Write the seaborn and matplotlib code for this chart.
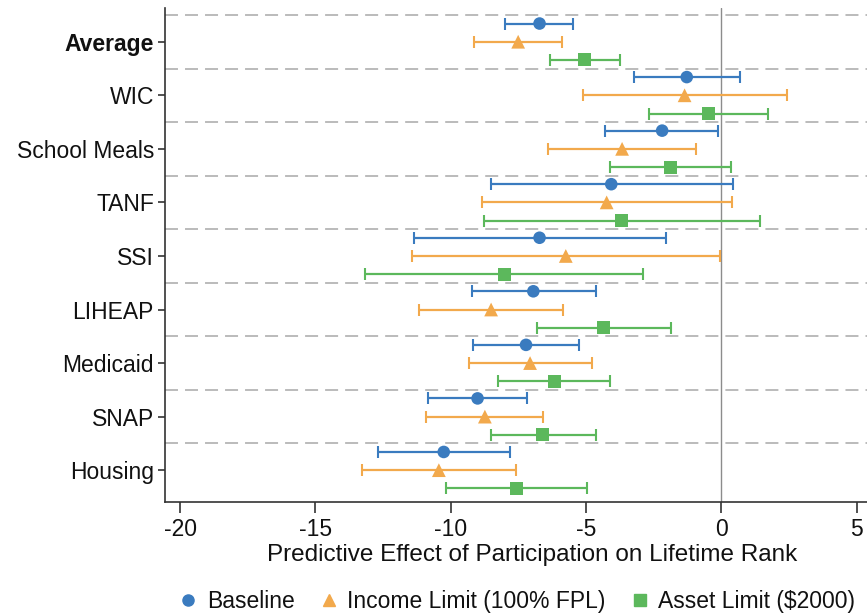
import numpy as np
import pandas as pd
import seaborn as sns
import matplotlib.pyplot as plt
from matplotlib.lines import Line2D

programs = ["Average", "WIC", "School Meals", "TANF", "SSI", "LIHEAP", "Medicaid", "SNAP", "Housing"]
series = ["Baseline", "Income Limit (100% FPL)", "Asset Limit ($2000)"]

baseline_est = [-6.72, -1.28, -2.19, -4.07, -6.72, -6.95, -7.22, -9.01, -10.26]
baseline_lo = [-7.98, -3.24, -4.29, -8.53, -11.35, -9.23, -9.19, -10.84, -12.68]
baseline_hi = [-5.49, 0.70, -0.12, 0.42, -2.04, -4.64, -5.25, -7.17, -7.80]

income_est = [-7.51, -1.36, -3.67, -4.24, -5.75, -8.51, -7.07, -8.74, -10.44]
income_lo = [-9.14, -5.12, -6.40, -8.83, -11.44, -11.17, -9.34, -10.91, -13.28]
income_hi = [-5.89, 2.41, -0.95, 0.38, -0.07, -5.87, -4.77, -6.60, -7.58]

asset_est = [-5.05, -0.48, -1.88, -3.69, -8.03, -4.36, -6.18, -6.60, -7.56]
asset_lo = [-6.33, -2.68, -4.12, -8.78, -13.17, -6.83, -8.26, -8.51, -10.16]
asset_hi = [-3.74, 1.73, 0.37, 1.43, -2.89, -1.88, -4.12, -4.64, -4.95]

x_ticks = [-20, -15, -10, -5, 0, 5]
x_label = "Predictive Effect of Participation on Lifetime Rank"

colors = ["#3a7bbf", "#f2a94c", "#5cb85c"]
markers = ["o", "^", "s"]
marker_area = [82, 98, 88]
offsets = [-0.34, 0.0, 0.34]

sns.set_style("ticks")
plt.rcParams["font.family"] = ["Liberation Sans", "DejaVu Sans"]

rows = []
for s, est, lo, hi in zip(series,
                          [baseline_est, income_est, asset_est],
                          [baseline_lo, income_lo, asset_lo],
                          [baseline_hi, income_hi, asset_hi]):
    for i, p in enumerate(programs):
        rows.append(dict(program=p, idx=i, series=s, est=est[i], lo=lo[i], hi=hi[i]))
df = pd.DataFrame(rows)

fig = plt.figure(figsize=(8.67, 6.16), dpi=100)
ax = fig.add_axes([165 / 867, 1 - 502.3 / 616, 1 - 165 / 867, (502.3 - 8) / 616])

# separators
for k in range(len(programs)):
    ax.axhline(k - 0.5, color="#a8a8a8", lw=1.1, ls=(0, (8.5, 4.6)), zorder=0)
ax.axvline(0, color="#8c8c8c", lw=1.0, zorder=0)

for s, c, m, a, off in zip(series, colors, markers, marker_area, offsets):
    d = df[df.series == s]
    y = d.idx + off
    ax.errorbar(d.est, y, xerr=[d.est - d.lo, d.hi - d.est], fmt="none",
                ecolor=c, elinewidth=1.6, capsize=4.2, capthick=1.5, zorder=2)
    sns.scatterplot(x=d.est, y=y, color=c, marker=m, s=a,
                    edgecolor="none", linewidth=0, ax=ax, zorder=3, legend=False)

ax.set_xlim(-20.56, 5.38)
ax.set_ylim(8.6, -0.63)
ax.set_yticks(range(len(programs)))
ax.set_yticklabels(programs, fontsize=16.5, color="#111111")
ax.get_yticklabels()[0].set_fontweight("bold")
ax.set_xticks(x_ticks)
ax.set_xticklabels([str(t) for t in x_ticks], fontsize=16.5, color="#111111")
ax.set_xlabel(x_label, fontsize=17.5, labelpad=0, color="#111111")
ax.xaxis.set_label_coords((532 - 165) / 702, -0.085)
ax.set_ylabel("")
ax.tick_params(axis="y", length=5, width=1.2, color="#333333", pad=3)
ax.tick_params(axis="x", length=8, width=1.2, color="#333333", pad=3)
for sp in ["top", "right"]:
    ax.spines[sp].set_visible(False)
for sp in ["left", "bottom"]:
    ax.spines[sp].set_color("#333333")
    ax.spines[sp].set_linewidth(1.2)

handles = [Line2D([0], [0], marker=m, color=c, linestyle="none", markersize=9 if m == "^" else 8)
           for m, c in zip(markers, colors)]
leg = ax.legend(handles, series, loc="center", bbox_to_anchor=(0.5, -0.2), ncol=3,
                frameon=False, fontsize=16.5, handletextpad=0.3, columnspacing=1.0,
                handlelength=1.0)
for t in leg.get_texts():
    t.set_color("#111111")

fig.savefig("out.png", dpi=100)
